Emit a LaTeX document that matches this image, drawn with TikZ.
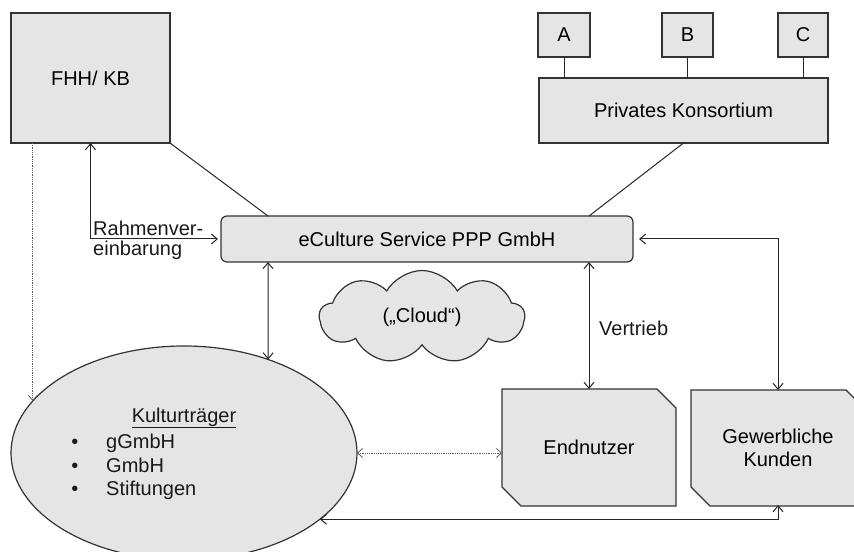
\documentclass[tikz,border=0pt]{standalone}
\usepackage{fontspec}
\setmainfont{Liberation Sans}
\usetikzlibrary{shapes.geometric,shapes.symbols,arrows.meta,calc,backgrounds}
% box with the upper right and lower left corners cut off
\newcommand\cutbox[1]{%
  \draw[box] (#1.north west) -- ($(#1.north east)+(-19,0)$) -- ($(#1.north east)+(0,19)$)
    -- (#1.south east) -- ($(#1.south west)+(19,0)$) -- ($(#1.south west)+(0,-19)$) -- cycle;}
\begin{document}
\begin{tikzpicture}[x=1bp,y=-1bp,
  font=\fontsize{20bp}{23.5bp}\selectfont,
  box/.style={draw=black!80, line width=1.2bp, fill=black!10, inner sep=0pt, outer sep=0pt},
  ghost/.style={inner sep=0pt, outer sep=0pt},
  link/.style={draw=black!85, line width=1bp, >={Straight Barb[length=6bp,width=10bp]}},
  faint/.style={draw=black!65, line width=0.8bp, dash pattern=on 0.9bp off 0.9bp,
                >={Straight Barb[length=5bp,width=9bp]}},
  txt/.style={inner sep=0pt, text=black!90}]
\useasboundingbox (0,0) rectangle (854,552);
\clip (0,0) rectangle (854,552);

% upper row: city and private consortium
\node[box, minimum width=159bp, minimum height=130bp] (fhh) at (90.5,78) {FHH/ KB};
\node[box, minimum width=52bp, minimum height=44bp] (a) at (564,35) {A};
\node[box, minimum width=51bp, minimum height=44bp] (b) at (687.5,35) {B};
\node[box, minimum width=50bp, minimum height=44bp] (c) at (803,35) {C};
\node[box, minimum width=289bp, minimum height=65bp] (pk) at (683.5,110.5) {Privates Konsortium};
\foreach \m in {a,b,c} \draw[link] (\m.south) -- (\m.south |- pk.north);

% the service company in the middle
\node[box, rounded corners=6bp, minimum width=412bp, minimum height=46bp] (ec) at (427,239)
  {eCulture Service PPP GmbH};
\coordinate (ecl) at ($(ec.north west)+(47,0)$);
\coordinate (ecr) at ($(ec.north east)+(-44,0)$);
\draw[link] (fhh.south east) -- (ecl);
\draw[link] (pk.south) -- (ecr);

\node[cloud, draw=black!80, fill=black!10, line width=1.2bp, cloud puffs=9, cloud puff arc=120,
  aspect=2.2, minimum width=205bp, minimum height=93bp, inner sep=0pt] (cl) at (422,317)
  {(„Cloud“)};

% cultural institutions
\node[box, ellipse, minimum width=346bp, minimum height=214bp] (kt) at (184,453) {};
\node[txt, anchor=base] (kth) at (184,422) {\underline{Kulturträger}};
\foreach \i/\t/\y in {1/gGmbH/448,2/GmbH/472,3/Stiftungen/495}{
  \node[txt, anchor=base] (dot\i) at (75,\y) {•};
  \node[txt, anchor=base west] (it\i) at (106,\y) {\t};
}

% customers
\node[ghost, minimum width=174bp, minimum height=117bp] (en) at (589,447.5) {Endnutzer};
\node[ghost, minimum width=174bp, minimum height=116bp, align=center] (gk) at (778,448)
  {Gewerbliche\\Kunden};
\begin{pgfonlayer}{background}
  \cutbox{en}
  \cutbox{gk}
\end{pgfonlayer}

% relations
\draw[link, <->, shorten <=3bp] (ec.west) -| (fhh.south);
\node[txt, anchor=south west, align=left] (rv) at (93,236) {Rahmenver-};
\node[txt, anchor=north west] (rv2) at (93,241) {einbarung};
\draw[link, <->] ($(ec.south west)+(47,0)$) -- (kt.48);
\draw[link, <->] (ec.south -| en.north) -- (en.north);
\node[txt, anchor=west] (vt) at (599,328) {Vertrieb};
\draw[link, <->, shorten <=6bp] (ec.east) -| (gk.north);
\draw[link, <->, shorten >=-1bp] (kt.-26) -| (gk.south);
\draw[faint, <->] (kt.east) -- (kt.east -| en.west);
\draw[faint, ->] (kt.161 |- fhh.south) -- (kt.161);
\end{tikzpicture}
\end{document}
